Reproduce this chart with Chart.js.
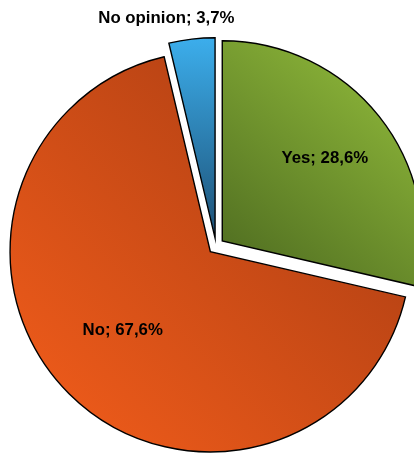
<!DOCTYPE html>
<html>
<head>
<meta charset="utf-8">
<script src="https://cdn.jsdelivr.net/npm/chart.js@4.4.1/dist/chart.umd.min.js"></script>
<style>
  html, body { margin: 0; padding: 0; background: #fff; overflow: hidden; width: 414px; height: 454px; }
  #wrap { position: absolute; left: 0; top: 0; width: 432px; height: 492px; }
</style>
</head>
<body>
<div id="wrap"><canvas id="chart"></canvas></div>
<script>
// Survey answers (percent of respondents)
const categories = ['Yes', 'No', 'No opinion'];
const shares = [28.6, 67.6, 3.7];

// Two-stop fill per slice and the direction the shading runs
const sliceColors = [
  ['#4b681f', '#97c23d'],
  ['#f55e1b', '#a33a12'],
  ['#3caeec', '#1d5075']
];
const shadeDirection = ['diagonal', 'diagonal', 'vertical'];

// Where each value label sits: fraction of radius from the slice tip, plus a small nudge
const labelPlacement = [
  { dist: 0.66, dx: -1, dy: 0 },
  { dist: 0.585, dx: -5, dy: -4 },
  { dist: 1.105, dx: -23, dy: 0 }
];

const BORDER = 1.4;
const EXPLODE = 8;

function formatShare(v) {
  return v.toFixed(1).replace('.', ',') + '%';
}

// Bounding box of a slice (before it is pushed outwards)
function sliceBox(cx, cy, r, a0, a1) {
  const pts = [[cx, cy], [cx + r * Math.cos(a0), cy + r * Math.sin(a0)], [cx + r * Math.cos(a1), cy + r * Math.sin(a1)]];
  for (let k = -4; k <= 8; k++) {
    const a = k * Math.PI / 2;
    if (a > a0 && a < a1) pts.push([cx + r * Math.cos(a), cy + r * Math.sin(a)]);
  }
  const xs = pts.map(p => p[0]), ys = pts.map(p => p[1]);
  return { l: Math.min(...xs), r: Math.max(...xs), t: Math.min(...ys), b: Math.max(...ys) };
}

function sliceFill(context) {
  const i = context.dataIndex;
  const chart = context.chart;
  const area = chart.chartArea;
  if (!area || i === undefined) return sliceColors[i || 0][0];
  const cx = (area.left + area.right) / 2;
  const cy = (area.top + area.bottom) / 2;
  const r = (Math.min(area.right - area.left, area.bottom - area.top) - BORDER) / 2;
  const total = shares.reduce((s, v) => s + v, 0);
  let before = 0;
  for (let k = 0; k < i; k++) before += shares[k];
  const a0 = -Math.PI / 2 + before / total * 2 * Math.PI;
  const a1 = a0 + shares[i] / total * 2 * Math.PI;
  const box = sliceBox(cx, cy, r, a0, a1);
  const g = shadeDirection[i] === 'vertical'
    ? chart.ctx.createLinearGradient(0, box.t, 0, box.b)
    : chart.ctx.createLinearGradient(box.l, box.b, box.r, box.t);
  g.addColorStop(0, sliceColors[i][0]);
  g.addColorStop(1, sliceColors[i][1]);
  return g;
}

// Pushes every slice outwards along its middle angle
const explodedSlices = {
  id: 'explodedSlices',
  beforeDatasetDraw(chart, args, opts) {
    const ctx = chart.ctx;
    args.meta.data.forEach(arc => {
      const mid = (arc.startAngle + arc.endAngle) / 2;
      ctx.save();
      ctx.translate(Math.cos(mid) * opts.distance, Math.sin(mid) * opts.distance);
      arc.draw(ctx);
      ctx.restore();
    });
    return false;
  }
};

// "Category; value" labels
const valueLabels = {
  id: 'valueLabels',
  afterDatasetsDraw(chart, args, opts) {
    const ctx = chart.ctx;
    const meta = chart.getDatasetMeta(0);
    ctx.save();
    ctx.font = opts.font;
    ctx.fillStyle = opts.color;
    ctx.textAlign = 'center';
    ctx.textBaseline = 'middle';
    meta.data.forEach((arc, i) => {
      const mid = (arc.startAngle + arc.endAngle) / 2;
      const tipX = arc.x + Math.cos(mid) * EXPLODE;
      const tipY = arc.y + Math.sin(mid) * EXPLODE;
      const p = labelPlacement[i];
      const x = tipX + Math.cos(mid) * arc.outerRadius * p.dist + p.dx;
      const y = tipY + Math.sin(mid) * arc.outerRadius * p.dist + p.dy;
      ctx.fillText(categories[i] + '; ' + formatShare(shares[i]), x, y);
    });
    ctx.restore();
  }
};

new Chart(document.getElementById('chart'), {
  type: 'pie',
  data: {
    labels: categories,
    datasets: [{
      data: shares,
      backgroundColor: sliceFill,
      borderColor: '#000',
      borderWidth: BORDER,
      hoverBorderWidth: BORDER,
      borderJoinStyle: 'miter',
      offset: 0,
      hoverOffset: 0
    }]
  },
  options: {
    responsive: true,
    maintainAspectRatio: false,
    animation: false,
    events: [],
    layout: { padding: { left: 15, right: 15, top: 45, bottom: 45 } },
    plugins: {
      legend: { display: false },
      tooltip: { enabled: false },
      explodedSlices: { distance: EXPLODE },
      valueLabels: { font: 'bold 16.8px "Liberation Sans", Arial, sans-serif', color: '#000' }
    }
  },
  plugins: [explodedSlices, valueLabels]
});
</script>
</body>
</html>
